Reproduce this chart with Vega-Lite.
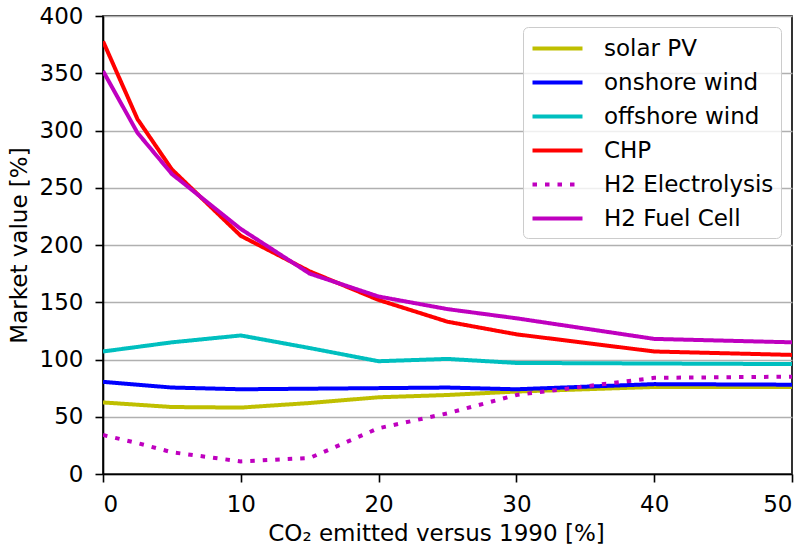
{
  "$schema": "https://vega.github.io/schema/vega-lite/v6.json",
  "width": 689,
  "height": 458,
  "padding": {"left": 8, "top": 5, "right": 5, "bottom": 0},
  "background": "white",
  "config": {
    "font": "DejaVu Sans",
    "view": {"stroke": "black", "strokeWidth": 1.6},
    "axis": {"labelFont": "DejaVu Sans", "titleFont": "DejaVu Sans", "labelFontSize": 23, "titleFontSize": 23, "titleFontWeight": "normal", "labelColor": "black", "titleColor": "black", "tickColor": "black", "domainColor": "black", "tickSize": 8, "tickWidth": 1.6, "domainWidth": 1.6, "gridColor": "#b0b0b0", "gridWidth": 1.6}
  },
  "data": {"values": [
    {"series": "solar PV", "x": 0, "y": 62.5}, {"series": "solar PV", "x": 2.5, "y": 60.5}, {"series": "solar PV", "x": 5, "y": 58.5}, {"series": "solar PV", "x": 10, "y": 58}, {"series": "solar PV", "x": 15, "y": 62}, {"series": "solar PV", "x": 20, "y": 67}, {"series": "solar PV", "x": 25, "y": 69}, {"series": "solar PV", "x": 30, "y": 72}, {"series": "solar PV", "x": 40, "y": 76}, {"series": "solar PV", "x": 50, "y": 76},
    {"series": "onshore wind", "x": 0, "y": 80.5}, {"series": "onshore wind", "x": 2.5, "y": 78}, {"series": "onshore wind", "x": 5, "y": 75.5}, {"series": "onshore wind", "x": 10, "y": 74}, {"series": "onshore wind", "x": 15, "y": 74.5}, {"series": "onshore wind", "x": 20, "y": 75}, {"series": "onshore wind", "x": 25, "y": 75.5}, {"series": "onshore wind", "x": 30, "y": 74}, {"series": "onshore wind", "x": 40, "y": 78.5}, {"series": "onshore wind", "x": 50, "y": 78},
    {"series": "offshore wind", "x": 0, "y": 107}, {"series": "offshore wind", "x": 2.5, "y": 111}, {"series": "offshore wind", "x": 5, "y": 115}, {"series": "offshore wind", "x": 10, "y": 121}, {"series": "offshore wind", "x": 15, "y": 110}, {"series": "offshore wind", "x": 20, "y": 98.5}, {"series": "offshore wind", "x": 25, "y": 100.5}, {"series": "offshore wind", "x": 30, "y": 97}, {"series": "offshore wind", "x": 40, "y": 96.5}, {"series": "offshore wind", "x": 50, "y": 96},
    {"series": "CHP", "x": 0, "y": 378}, {"series": "CHP", "x": 2.5, "y": 310}, {"series": "CHP", "x": 5, "y": 266}, {"series": "CHP", "x": 10, "y": 208}, {"series": "CHP", "x": 15, "y": 177}, {"series": "CHP", "x": 20, "y": 152}, {"series": "CHP", "x": 25, "y": 133}, {"series": "CHP", "x": 30, "y": 122}, {"series": "CHP", "x": 40, "y": 107}, {"series": "CHP", "x": 50, "y": 104},
    {"series": "H2 Electrolysis", "x": 0, "y": 34}, {"series": "H2 Electrolysis", "x": 2.5, "y": 27}, {"series": "H2 Electrolysis", "x": 5, "y": 19}, {"series": "H2 Electrolysis", "x": 10, "y": 11}, {"series": "H2 Electrolysis", "x": 15, "y": 14}, {"series": "H2 Electrolysis", "x": 20, "y": 40}, {"series": "H2 Electrolysis", "x": 25, "y": 53}, {"series": "H2 Electrolysis", "x": 30, "y": 69}, {"series": "H2 Electrolysis", "x": 40, "y": 84}, {"series": "H2 Electrolysis", "x": 50, "y": 85},
    {"series": "H2 Fuel Cell", "x": 0, "y": 352}, {"series": "H2 Fuel Cell", "x": 2.5, "y": 298}, {"series": "H2 Fuel Cell", "x": 5, "y": 262}, {"series": "H2 Fuel Cell", "x": 10, "y": 214}, {"series": "H2 Fuel Cell", "x": 15, "y": 175}, {"series": "H2 Fuel Cell", "x": 20, "y": 155}, {"series": "H2 Fuel Cell", "x": 25, "y": 144}, {"series": "H2 Fuel Cell", "x": 30, "y": 136}, {"series": "H2 Fuel Cell", "x": 40, "y": 118}, {"series": "H2 Fuel Cell", "x": 50, "y": 115}
  ]},
  "mark": {"type": "line", "strokeWidth": 4, "strokeCap": "butt", "clip": true},
  "encoding": {
    "x": {"field": "x", "type": "quantitative", "scale": {"domain": [0, 50], "nice": false}, "axis": {"values": [0, 10, 20, 30, 40, 50], "grid": false, "title": "CO₂ emitted versus 1990 [%]", "titlePadding": 6, "labelPadding": 11, "titleX": 333, "titleAlign": "center"}},
    "y": {"field": "y", "type": "quantitative", "scale": {"domain": [0, 400], "nice": false}, "axis": {"values": [0, 50, 100, 150, 200, 250, 300, 350, 400], "grid": true, "title": "Market value [%]", "titlePadding": 8, "labelPadding": 12}},
    "color": {"field": "series", "type": "nominal", "sort": null,
      "scale": {"domain": ["solar PV", "onshore wind", "offshore wind", "CHP", "H2 Electrolysis", "H2 Fuel Cell"], "range": ["#bfbf00", "#0000ff", "#00bfbf", "#ff0000", "#bf00bf", "#bf00bf"]},
      "legend": {"title": null, "orient": "top-right", "offset": 11, "fillColor": "rgba(255,255,255,0.8)", "strokeColor": "#cccccc", "cornerRadius": 5, "padding": 7, "labelFontSize": 23, "labelFont": "DejaVu Sans", "labelColor": "black", "labelLimit": 400, "symbolType": "M-2,0H2", "symbolStrokeWidth": 4, "symbolSize": 625, "symbolOffset": 13, "rowPadding": 7, "labelOffset": 32}},
    "strokeDash": {"field": "series", "type": "nominal", "sort": null,
      "scale": {"domain": ["solar PV", "onshore wind", "offshore wind", "CHP", "H2 Electrolysis", "H2 Fuel Cell"], "range": [[1, 0], [1, 0], [1, 0], [1, 0], [4.5, 8], [1, 0]]},
      "legend": {"title": null}}
  }
}
